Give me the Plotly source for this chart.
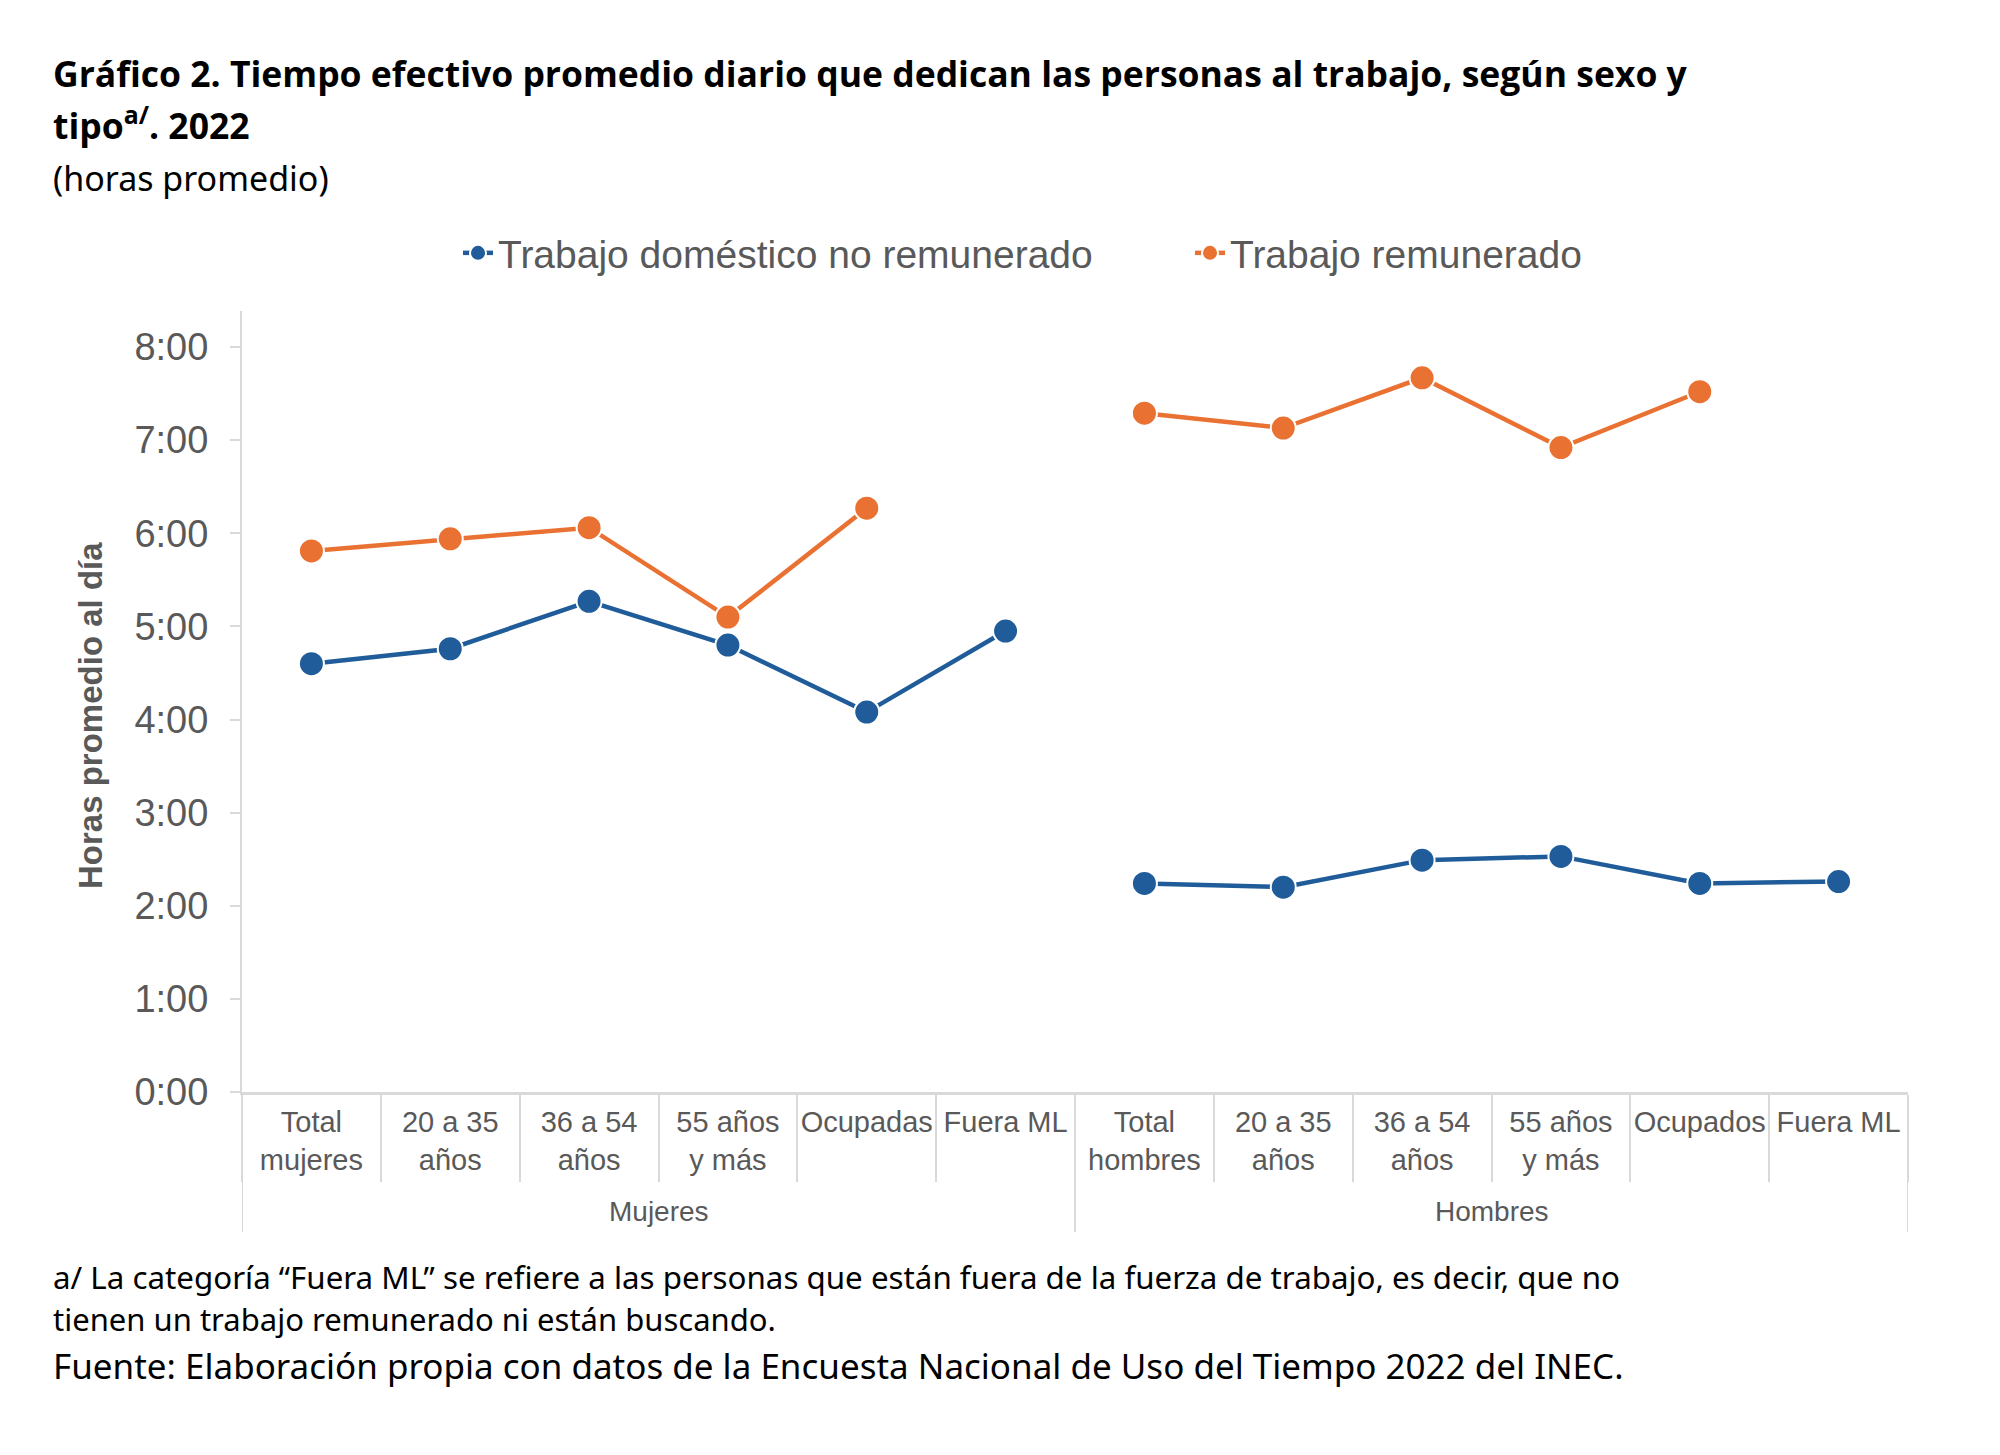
import plotly.graph_objects as go

# datos (horas promedio al día)
grupos = ["Mujeres"] * 6 + ["Hombres"] * 6
categorias = [
    "Total<br>mujeres", "20 a 35<br>años", "36 a 54<br>años", "55 años<br>y más", "Ocupadas", "Fuera ML",
    "Total<br>hombres", "20 a 35<br>años", "36 a 54<br>años", "55 años<br>y más", "Ocupados", "Fuera ML",
]
domestico = [4.60, 4.76, 5.27, 4.80, 4.08, 4.95, 2.24, 2.20, 2.49, 2.53, 2.24, 2.26]
remunerado = [5.81, 5.94, 6.06, 5.10, 6.27, None, 7.29, 7.13, 7.67, 6.92, 7.52, None]
y_ticks = [0, 1, 2, 3, 4, 5, 6, 7, 8]
y_labels = ["0:00", "1:00", "2:00", "3:00", "4:00", "5:00", "6:00", "7:00", "8:00"]

azul = "#1F5C99"
naranja = "#E97132"
gris = "#595959"
gris_linea = "#D9D9D9"

posiciones = list(range(len(categorias)))
nombres_grupo = ["Mujeres", "Hombres"]


# coordenadas de página (px) -> coordenadas "paper" del área del gráfico
def px(x):
    return (x - 242) / 1666


def py(y):
    return (1092 - y) / 781


fig = go.Figure()

series = [("Trabajo doméstico no remunerado", domestico, azul),
          ("Trabajo remunerado", remunerado, naranja)]

# una traza por grupo para que la línea se corte entre Mujeres y Hombres
for nombre, valores, color in series:
    for i, g in enumerate(nombres_grupo):
        idx = [k for k in posiciones if grupos[k] == g]
        fig.add_trace(go.Scatter(
            x=[posiciones[k] for k in idx],
            y=[valores[k] for k in idx],
            name=nombre,
            legendgroup=nombre,
            showlegend=(i == 0),
            mode="lines+markers",
            line=dict(color=color, width=4.5),
            marker=dict(color=color, size=25, line=dict(color="white", width=2)),
        ))

limites = [p - 0.5 for p in posiciones] + [posiciones[-1] + 0.5]

fig.update_layout(
    width=2000,
    height=1455,
    plot_bgcolor="white",
    paper_bgcolor="white",
    margin=dict(l=234, r=100, t=303, b=371),
    font=dict(family="Liberation Sans, Arial", color=gris),
    legend=dict(
        orientation="h",
        x=px(458), xanchor="left",
        y=py(253), yanchor="middle",
        font=dict(size=39, color=gris),
        entrywidth=687,
    ),
    xaxis=dict(
        range=[limites[0], limites[-1]],
        tickvals=posiciones,
        ticktext=categorias,
        tickangle=0,
        showline=True,
        linecolor=gris_linea,
        linewidth=3,
        showgrid=False,
        zeroline=False,
        ticks="",
        ticklabelstandoff=2,
        tickfont=dict(size=29, color=gris),
        minor=dict(tickvals=limites, ticks="outside", ticklen=87, tickcolor=gris_linea, tickwidth=2, showgrid=False),
    ),
    yaxis=dict(
        range=[0, 8.387],
        tickvals=y_ticks,
        ticktext=y_labels,
        showline=True,
        linecolor=gris_linea,
        linewidth=2,
        showgrid=False,
        zeroline=False,
        ticks="outside",
        ticklen=10,
        tickcolor=gris_linea,
        tickwidth=2,
        ticklabelstandoff=14,
        tickfont=dict(size=38, color=gris),
    ),
)

# divisiones de grupo y etiquetas Mujeres / Hombres
for g in nombres_grupo:
    idx = [k for k in posiciones if grupos[k] == g]
    for b in (idx[0] - 0.5, idx[-1] + 0.5):
        fig.add_shape(type="line", xref="x", yref="paper", x0=b, x1=b, y0=0, y1=py(1232),
                      line=dict(color=gris_linea, width=2))
    fig.add_annotation(
        text=g, xref="x", yref="paper", x=sum(idx) / len(idx), y=py(1211),
        xanchor="center", yanchor="middle", showarrow=False,
        font=dict(family="Liberation Sans, Arial", size=28, color=gris),
    )

# títulos y notas
x_texto = px(51)
fig.add_annotation(
    text="<b>Gráfico 2. Tiempo efectivo promedio diario que dedican las personas al trabajo, según sexo y</b>",
    xref="paper", yref="paper", x=x_texto, y=py(73),
    xanchor="left", yanchor="middle", showarrow=False,
    font=dict(family="Open Sans", size=35.5, color="black"),
)
fig.add_annotation(
    text="<b>tipo<sup>a/</sup>. 2022</b>",
    xref="paper", yref="paper", x=x_texto, y=py(123),
    xanchor="left", yanchor="middle", showarrow=False,
    font=dict(family="Open Sans", size=35.5, color="black"),
)
fig.add_annotation(
    text="(horas promedio)",
    xref="paper", yref="paper", x=x_texto, y=py(178),
    xanchor="left", yanchor="middle", showarrow=False,
    font=dict(family="Noto Sans", size=34, color="black"),
)
fig.add_annotation(
    text="<b>Horas promedio al día</b>",
    xref="paper", yref="paper", x=px(90), y=py(716),
    xanchor="center", yanchor="middle", textangle=-90, showarrow=False,
    font=dict(family="Liberation Sans, Arial", size=33, color=gris),
)
fig.add_annotation(
    text="a/ La categoría “Fuera ML” se refiere a las personas que están fuera de la fuerza de trabajo, es decir, que no",
    xref="paper", yref="paper", x=x_texto, y=py(1277),
    xanchor="left", yanchor="middle", showarrow=False,
    font=dict(family="Noto Sans", size=31.3, color="black"),
)
fig.add_annotation(
    text="tienen un trabajo remunerado ni están buscando.",
    xref="paper", yref="paper", x=x_texto, y=py(1319),
    xanchor="left", yanchor="middle", showarrow=False,
    font=dict(family="Noto Sans", size=31, color="black"),
)
fig.add_annotation(
    text="Fuente: Elaboración propia con datos de la Encuesta Nacional de Uso del Tiempo 2022 del INEC.",
    xref="paper", yref="paper", x=x_texto, y=py(1365),
    xanchor="left", yanchor="middle", showarrow=False,
    font=dict(family="Noto Sans", size=35, color="black"),
)

fig.write_html("out.html")
